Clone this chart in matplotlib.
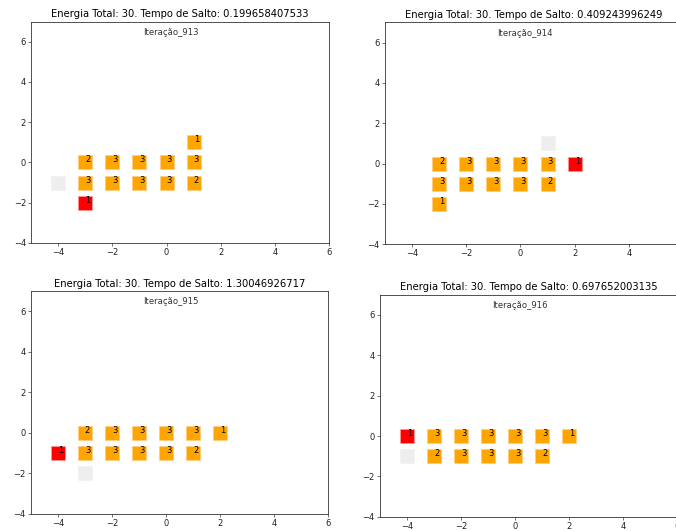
import matplotlib
matplotlib.use("Agg")
import matplotlib.pyplot as plt

# iteration snapshots of the block pile
iteracoes = [913, 914, 915, 916]
tempos = ["0.199658407533", "0.409243996249", "1.30046926717", "0.697652003135"]
energia = 30

# orange blocks: x, y, count
x_913 = [-3, -2, -1, 0, 1, 1, -3, -2, -1, 0, 1]
y_913 = [0, 0, 0, 0, 0, 1, -1, -1, -1, -1, -1]
n_913 = [2, 3, 3, 3, 3, 1, 3, 3, 3, 3, 2]

x_914 = [-3, -2, -1, 0, 1, -3, -2, -1, 0, 1, -3]
y_914 = [0, 0, 0, 0, 0, -1, -1, -1, -1, -1, -2]
n_914 = [2, 3, 3, 3, 3, 3, 3, 3, 3, 2, 1]

x_915 = [-3, -2, -1, 0, 1, 2, -3, -2, -1, 0, 1]
y_915 = [0, 0, 0, 0, 0, 0, -1, -1, -1, -1, -1]
n_915 = [2, 3, 3, 3, 3, 1, 3, 3, 3, 3, 2]

x_916 = [-3, -2, -1, 0, 1, 2, -3, -2, -1, 0, 1]
y_916 = [0, 0, 0, 0, 0, 0, -1, -1, -1, -1, -1]
n_916 = [3, 3, 3, 3, 3, 1, 2, 3, 3, 3, 2]

# the block that just jumped (red) and the spot it left (grey)
salto = [(-3, -2, 1), (2, 0, 1), (-4, -1, 1), (-4, 0, 1)]
vazio = [(-4, -1), (1, 1), (-3, -2), (-4, -1)]

blocos = [(x_913, y_913, n_913), (x_914, y_914, n_914),
          (x_915, y_915, n_915), (x_916, y_916, n_916)]

# axes boxes in pixels: left, top, right, bottom
caixas = [(31.2, 21.6, 329.0, 243.0),
          (384.9, 22.5, 683.0, 244.3),
          (30.7, 291.0, 328.3, 513.7),
          (380.0, 294.8, 677.0, 516.7)]

W, H = 676, 531
fig = plt.figure(figsize=(W / 100, H / 100), dpi=100)

fs = 6.0
tam = 95
for k in range(4):
    l, t, r, b = caixas[k]
    ax = fig.add_axes([l / W, 1 - b / H, (r - l) / W, (b - t) / H])
    xs, ys, ns = blocos[k]
    vx, vy = vazio[k]
    ax.scatter([vx], [vy], marker="s", s=tam, color="#eeeeee",
               edgecolors=(0.93, 0.93, 0.93, 0.5), linewidths=0.6, zorder=2)
    ax.scatter(xs, ys, marker="s", s=tam, color="orange",
               edgecolors=(1, 0.8, 0.5, 0.8), linewidths=0.6, zorder=2)
    sx, sy, sn = salto[k]
    ax.scatter([sx], [sy], marker="s", s=tam, color="red",
               edgecolors=(1, 0.6, 0.6, 0.8), linewidths=0.6, zorder=3)
    for x, y, n in zip(xs, ys, ns):
        ax.text(x, y, str(n), fontsize=fs, zorder=4)
    ax.text(sx, sy, str(sn), fontsize=fs, zorder=4)
    ax.text(-0.85, 6.35, "Iteração_%d" % iteracoes[k], fontsize=6.1,
            color="#333333")
    ax.set_xlim(-5, 6)
    ax.set_ylim(-4, 7)
    ax.set_xticks([-4, -2, 0, 2, 4, 6])
    ax.set_yticks([-4, -2, 0, 2, 4, 6])
    ax.tick_params(labelsize=fs, length=1.9, width=0.45, pad=1.8,
                   colors="#222222")
    for sp in ax.spines.values():
        sp.set_linewidth(0.6)
        sp.set_color("#333333")
    ax.set_title("Energia Total: %d. Tempo de Salto: %s" % (energia, tempos[k]),
                 fontsize=7.2, pad=3.2)

fig.savefig("out.png", dpi=100)
